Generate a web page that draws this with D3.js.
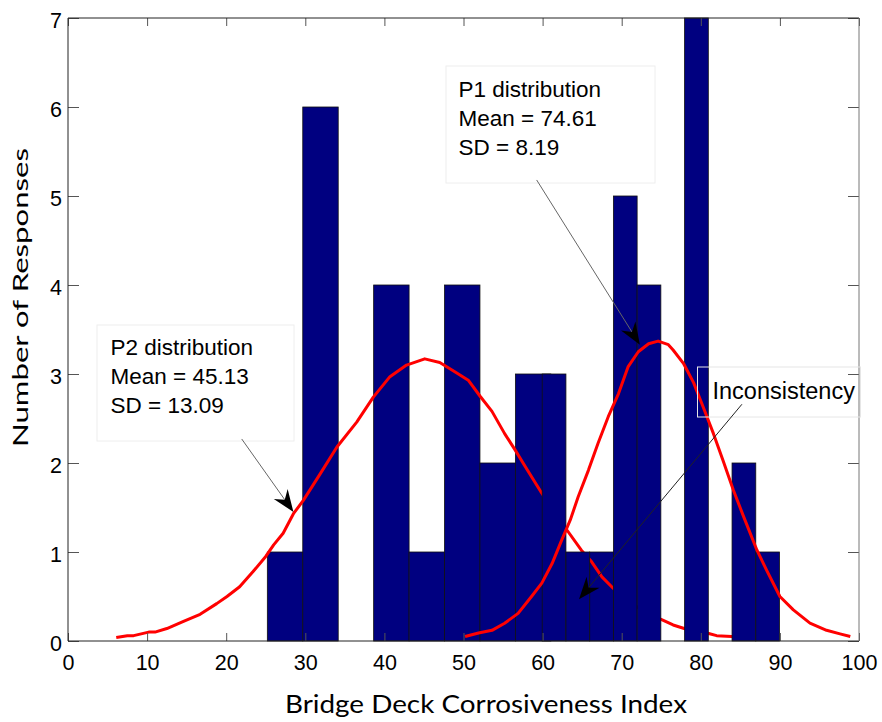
<!DOCTYPE html>
<html>
<head>
<meta charset="utf-8">
<script src="https://cdn.jsdelivr.net/npm/d3@7/dist/d3.min.js"></script>
<style>
  html, body { margin: 0; padding: 0; background: #fff; }
  svg { display: block; }
</style>
</head>
<body>
<svg id="chart" width="882" height="722"></svg>
<script>
// ---------------- data ----------------
const xTicks = [0, 10, 20, 30, 40, 50, 60, 70, 80, 90, 100];
const yTicks = [0, 1, 2, 3, 4, 5, 6, 7];

// P2 histogram (bin edges and counts)
const p2Edges  = [25.2, 29.68, 34.16, 38.64, 43.12, 47.6, 52.08, 56.56, 61.04];
const p2Counts = [1, 6, 0, 4, 1, 4, 2, 3];

// P1 histogram (bin edges and counts)
const p1Edges  = [59.95, 62.95, 65.95, 68.95, 71.95, 74.95, 77.95, 80.95, 83.95, 86.95, 89.95];
const p1Counts = [3, 1, 1, 5, 4, 0, 7, 0, 2, 1];

// fitted distribution curves
const p2CurveX = [6.1, 7.5, 8.3, 10.2, 11.0, 12.5, 14.6, 16.7, 18.8, 20.1, 21.7, 23.4, 25.0, 26.0, 27.2, 28.5,
  29.75, 31.9, 34.0, 36.5, 38.6, 40.7, 42.8, 45.1, 47.0, 49.0, 50.6, 52.1, 53.6, 55.2, 56.5, 57.8, 59.9,
  61.5, 63.05, 64.9, 66.2, 67.5, 68.95, 70.5, 72.0, 73.5, 75.05, 76.5, 77.9, 79.5, 81.0, 82.0, 83.9, 85.0];
const p2CurveY = [0.04, 0.06, 0.06, 0.10, 0.10, 0.14, 0.22, 0.30, 0.42, 0.50, 0.61, 0.78, 0.95, 1.08, 1.21, 1.43,
  1.58, 1.88, 2.18, 2.46, 2.74, 2.97, 3.10, 3.17, 3.13, 3.02, 2.93, 2.75, 2.58, 2.33, 2.15, 1.96, 1.66,
  1.45, 1.25, 1.02, 0.89, 0.72, 0.59, 0.47, 0.38, 0.30, 0.24, 0.18, 0.14, 0.11, 0.085, 0.06, 0.05, 0.04];

const p1CurveX = [50.2, 51.9, 53.6, 55.2, 56.9, 58.6, 59.9, 61.2, 62.4, 63.5, 64.5, 65.8, 67.0, 68.3, 69.6,
  70.8, 72.1, 73.4, 74.6, 75.9, 76.5, 77.8, 79.1, 80.3, 81.6, 82.8, 84.1, 85.4, 87.1, 88.3, 90.0, 91.7,
  93.8, 95.9, 97.6, 98.9];
const p1CurveY = [0.05, 0.09, 0.12, 0.20, 0.31, 0.50, 0.65, 0.87, 1.13, 1.36, 1.62, 1.92, 2.22, 2.52, 2.78,
  3.08, 3.25, 3.34, 3.37, 3.33, 3.27, 3.12, 2.90, 2.63, 2.33, 2.03, 1.70, 1.40, 1.02, 0.80, 0.50, 0.35,
  0.20, 0.12, 0.08, 0.05];

const p1Text = ["P1 distribution", "Mean = 74.61", "SD = 8.19"];
const p2Text = ["P2 distribution", "Mean = 45.13", "SD = 13.09"];
const noteText = "Inconsistency";
const xLabel = "Bridge Deck Corrosiveness Index";
const yLabel = "Number of Responses";

// ---------------- layout ----------------
const svg = d3.select("#chart");
const L = 68, R = 859, T = 18, B = 641;
const x = d3.scaleLinear().domain([0, 100]).range([L, R]);
const y = d3.scaleLinear().domain([0, 7]).range([B, T]);
const tickFont = "'Liberation Sans', Arial, Helvetica, sans-serif";

svg.append("rect").attr("width", 882).attr("height", 722).attr("fill", "#fff");

const plot = svg.append("g");

function bins(edges, counts) {
  return counts.map((c, i) => ({ x0: edges[i], x1: edges[i + 1], n: c }));
}

function drawBars(data) {
  return plot.selectAll(null).data(data.filter(d => d.n > 0)).enter().append("rect")
    .attr("x", d => x(d.x0))
    .attr("y", d => y(d.n))
    .attr("width", d => x(d.x1) - x(d.x0))
    .attr("height", d => y(0) - y(d.n))
    .attr("fill", "#000080")
    .attr("stroke", "#111")
    .attr("stroke-width", 0.8);
}

const line = d3.line().x(d => x(d[0])).y(d => y(d[1]));

// P2 bars
drawBars(bins(p2Edges, p2Counts));
// P2 curve
const p2Path = plot.append("path")
  .datum(p2CurveX.map((v, i) => [v, p2CurveY[i]]))
  .attr("d", line).attr("fill", "none").attr("stroke", "#ff0000")
  .attr("stroke-width", 3).attr("stroke-linejoin", "round");
// P1 bars
const p1Bars = drawBars(bins(p1Edges, p1Counts));
// the 66-69 bar sits beneath the P2 curve in the original
p1Bars.filter(d => d.x0 > 65 && d.x0 < 67).each(function () {
  plot.node().insertBefore(this, p2Path.node());
});
// P1 curve
plot.append("path")
  .datum(p1CurveX.map((v, i) => [v, p1CurveY[i]]))
  .attr("d", line).attr("fill", "none").attr("stroke", "#ff0000")
  .attr("stroke-width", 3).attr("stroke-linejoin", "round");

// ---------------- axes ----------------
function styleAxis(g) {
  g.select(".domain").remove();
  g.selectAll(".tick line").attr("stroke", "#555").attr("stroke-width", 1);
  g.selectAll("text").attr("font-family", tickFont).attr("font-size", 21.5).attr("fill", "#000");
}
svg.append("g").attr("transform", `translate(0,${B})`)
  .call(d3.axisBottom(x).tickValues(xTicks).tickFormat(d3.format("d")).tickSizeInner(-8).tickSizeOuter(0).tickPadding(14))
  .call(styleAxis);
svg.append("g").attr("transform", `translate(0,${T})`)
  .call(d3.axisTop(x).tickValues(xTicks).tickSizeInner(-8).tickSizeOuter(0).tickFormat(""))
  .call(styleAxis);
const yAx = svg.append("g").attr("transform", `translate(${L},0)`)
  .call(d3.axisLeft(y).tickValues(yTicks).tickFormat(d3.format("d")).tickSizeInner(-11).tickSizeOuter(0).tickPadding(6))
  .call(styleAxis);
yAx.selectAll("text").attr("dy", "0.45em");
svg.append("g").attr("transform", `translate(${R},0)`)
  .call(d3.axisRight(y).tickValues(yTicks).tickSizeInner(-11).tickSizeOuter(0).tickFormat(""))
  .call(styleAxis);

// frame
svg.append("line").attr("x1", L).attr("x2", R).attr("y1", B).attr("y2", B).attr("stroke", "#222");
svg.append("line").attr("x1", L).attr("x2", R).attr("y1", T).attr("y2", T).attr("stroke", "#222");
svg.append("line").attr("x1", L).attr("x2", L).attr("y1", T).attr("y2", B).attr("stroke", "#222");
svg.append("line").attr("x1", R).attr("x2", R).attr("y1", T).attr("y2", B).attr("stroke", "#777");

// axis labels
svg.append("text").attr("x", 486).attr("y", 713).attr("text-anchor", "middle")
  .attr("font-family", "Lato, 'Open Sans', sans-serif").attr("font-size", 25)
  .attr("textLength", 402).attr("lengthAdjust", "spacingAndGlyphs")
  .attr("fill", "#000").text(xLabel);
svg.append("text").attr("transform", "translate(28,297.5) rotate(-90)").attr("text-anchor", "middle")
  .attr("font-family", "Lato, 'Open Sans', sans-serif").attr("font-size", 21)
  .attr("textLength", 299).attr("lengthAdjust", "spacingAndGlyphs")
  .attr("fill", "#000").text(yLabel);

// ---------------- annotations ----------------
function arrow(x0, y0, x1, y1, lineColor) {
  const a = Math.atan2(y1 - y0, x1 - x0);
  const ux = Math.cos(a), uy = Math.sin(a), px = -uy, py = ux;
  const len = 22, half = 8.5, notch = 15;
  svg.append("line").attr("x1", x0).attr("y1", y0)
    .attr("x2", x1 - notch * ux).attr("y2", y1 - notch * uy)
    .attr("stroke", lineColor).attr("stroke-width", 1);
  const pts = [
    [x1, y1],
    [x1 - len * ux + half * px, y1 - len * uy + half * py],
    [x1 - notch * ux, y1 - notch * uy],
    [x1 - len * ux - half * px, y1 - len * uy - half * py]
  ];
  svg.append("polygon").attr("points", pts.map(p => p.join(",")).join(" ")).attr("fill", "#000");
}

function textBox(bx0, by0, bx1, by1, tx, ty0, lines) {
  svg.append("rect").attr("x", bx0).attr("y", by0).attr("width", bx1 - bx0).attr("height", by1 - by0)
    .attr("fill", "#fff").attr("stroke", "#eeeeee").attr("stroke-width", 1);
  lines.forEach((s, i) => {
    svg.append("text").attr("x", tx).attr("y", ty0 + i * 29)
      .attr("font-family", tickFont).attr("font-size", 22.5).attr("fill", "#000").text(s);
  });
}

// P2 box + arrow
textBox(97, 325, 294, 441, 110.5, 355, p2Text);
arrow(x(21.96), y(2.27), x(28.5), y(1.45), "#666");

// P1 box + arrow
textBox(446, 66, 655, 183, 458.5, 97, p1Text);
arrow(x(59.25), y(5.18), x(72.3), y(3.33), "#666");

// Inconsistency note
svg.append("rect").attr("x", 697.5).attr("y", 367).attr("width", 163).attr("height", 50)
  .attr("fill", "none").attr("stroke", "#e6e6e6").attr("stroke-width", 1);
svg.append("text").attr("x", 712.5).attr("y", 398.5)
  .attr("font-family", tickFont).attr("font-size", 23.5).attr("fill", "#000").text(noteText);
arrow(x(85.2), y(2.66), x(64.6), y(0.47), "#222");
</script>
</body>
</html>
